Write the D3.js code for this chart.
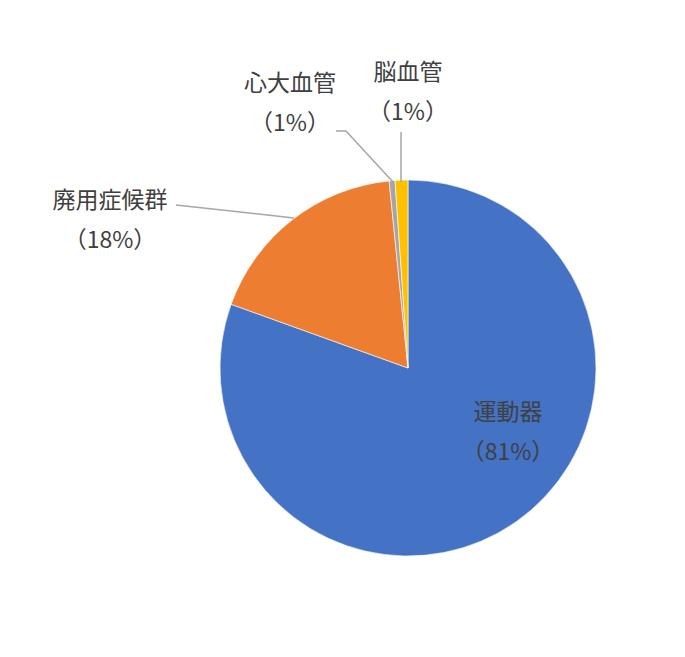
<!DOCTYPE html>
<html>
<head>
<meta charset="utf-8">
<script src="https://cdn.jsdelivr.net/npm/d3@7/dist/d3.min.js"></script>
<style>
  html, body { margin: 0; padding: 0; background: #fff; }
  text { font-family: "Noto Sans CJK JP", "Noto Sans", sans-serif; fill: #404040; }
</style>
</head>
<body>
<svg id="chart" width="685" height="657"></svg>
<script>
// data, clockwise from 12 o'clock
const categories = ["運動器", "廃用症候群", "心大血管", "脳血管"];
const values     = [80.5, 17.9, 0.5, 1.1];
const pctLabels  = ["（81%）", "（18%）", "（1%）", "（1%）"];
const colors     = ["#4472C4", "#ED7D31", "#A5A5A5", "#FFC000"];

const svg = d3.select("#chart");
const W = 685, H = 657;
const cx = 408, cy = 368, R = 188;

svg.append("rect").attr("width", W).attr("height", H).attr("fill", "#fff");

const pie = d3.pie().sort(null).value(d => d);
const arcs = pie(values);
const arc = d3.arc().innerRadius(0).outerRadius(R);

const g = svg.append("g").attr("transform", `translate(${cx},${cy})`);
g.selectAll("path").data(arcs).enter().append("path")
  .attr("d", arc)
  .attr("fill", (d, i) => colors[i])
  .attr("stroke", "#fff")
  .attr("stroke-width", 0.6);

// label placement (label block centre + optional leader path)
const labelPos = [
  { x: 508, y: 410, leader: null },
  { x: 110, y: 198, leader: [[176, 205], [294, 218]] },
  { x: 290, y: 81,  leader: [[336, 131], [346, 131], [393, 182]] },
  { x: 408, y: 70,  leader: [[401, 132], [401, 182]] }
];

const line = d3.line();
labelPos.forEach((p, i) => {
  if (p.leader) {
    svg.append("path")
      .attr("d", line(p.leader))
      .attr("fill", "none")
      .attr("stroke", "#A6A6A6")
      .attr("stroke-width", 1.5);
  }
  svg.append("text")
    .attr("x", p.x).attr("y", p.y)
    .attr("text-anchor", "middle")
    .attr("dominant-baseline", "central")
    .attr("font-size", 23)
    .text(categories[i]);
  svg.append("text")
    .attr("x", p.x).attr("y", p.y + 40)
    .attr("text-anchor", "middle")
    .attr("dominant-baseline", "central")
    .attr("font-size", 23)
    .text(pctLabels[i]);
});
</script>
</body>
</html>
